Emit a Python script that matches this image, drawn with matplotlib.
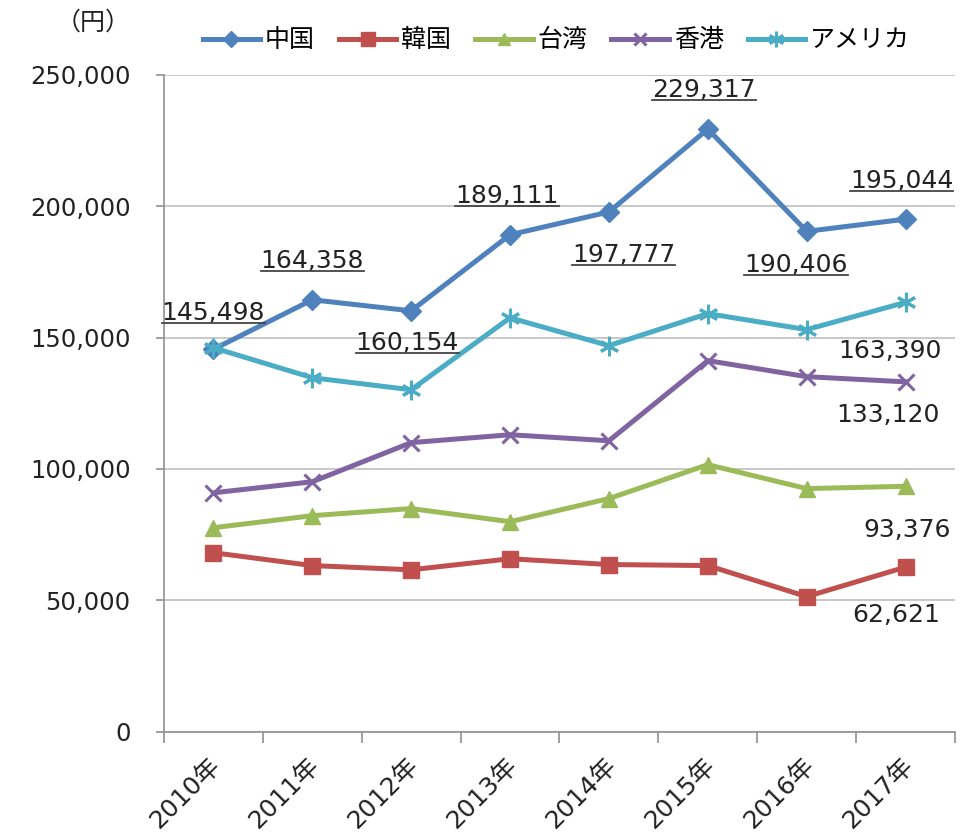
import matplotlib
matplotlib.use("Agg")
import matplotlib.pyplot as plt
import matplotlib.transforms as mtransforms
from matplotlib.lines import Line2D

# 数字はVerdana風のDejaVu、日本語はNoto
plt.rcParams['font.family'] = ['DejaVu Sans', 'Noto Sans CJK JP']

# データ
years = ['2010年', '2011年', '2012年', '2013年', '2014年', '2015年', '2016年', '2017年']
series_names = ['中国', '韓国', '台湾', '香港', 'アメリカ']
china = [145498, 164358, 160154, 189111, 197777, 229317, 190406, 195044]
korea = [68100, 63200, 61600, 65800, 63600, 63200, 51400, 62621]
taiwan = [77600, 82200, 84900, 79900, 88700, 101600, 92500, 93376]
hongkong = [90900, 95100, 110000, 113000, 110700, 141200, 135100, 133120]
usa = [146100, 134700, 130100, 157500, 146900, 159100, 153000, 163390]

colors = ['#4F81BD', '#C0504D', '#9BBB59', '#8064A2', '#4BACC6']
markers = ['D', 's', '^', 'x', (6, 2, 0)]
msizes = [10, 12, 11, 11, 14]

fig = plt.figure(figsize=(9.76, 8.4), dpi=100)
ax = fig.add_axes([0.168, 0.129, 0.8105, 0.782])

x = list(range(len(years)))
all_series = [china, korea, taiwan, hongkong, usa]
for vals, name, c, m, ms in zip(all_series, series_names, colors, markers, msizes):
    ax.plot(x, vals, color=c, lw=3.6, marker=m, markersize=ms,
            mew=2.2 if m == 'x' or isinstance(m, tuple) else 1, label=name, zorder=3)

ax.set_xlim(-0.5, 7.5)
ax.set_ylim(0, 250000)
ax.set_yticks(range(0, 250001, 50000))
ax.set_yticklabels([f'{v:,}' for v in range(0, 250001, 50000)], fontsize=17.5, color='#222222')
ax.yaxis.grid(True, color='#BFBFBF', lw=1.2)
ax.set_axisbelow(True)

ax.set_xticks([i - 0.5 for i in range(9)])
ax.set_xticklabels([])
ax.tick_params(axis='x', length=8, color='#909090', width=1.2)
ax.tick_params(axis='y', length=6, color='#909090', width=1.2, pad=18)
for s in ['top', 'right']:
    ax.spines[s].set_visible(False)
for s in ['left', 'bottom']:
    ax.spines[s].set_color('#909090')
    ax.spines[s].set_linewidth(1.2)

offset = mtransforms.ScaledTranslation(-0.05, -0.22, fig.dpi_scale_trans)
for i, lab in enumerate(years):
    ax.text(i, 0, lab, rotation=45, ha='right', va='top', rotation_mode='anchor',
            fontsize=18, color='#222222', transform=ax.get_xaxis_transform() + offset)

# データラベル (中国は下線付き)
china_pos = [(0.0, 156800), (0.0, 176600), (-0.04, 145400), (-0.03, 201300),
             (0.15, 178800), (-0.04, 241600), (-0.11, 175000), (-0.04, 207000)]
underlined = []
for i, (dx, y) in enumerate(china_pos):
    t = ax.text(i + dx, y, f'{china[i]:,}', ha='center', va='baseline', fontsize=18, color='#222222')
    underlined.append(t)

ax.text(7 - 0.16, 142300, f'{usa[7]:,}', ha='center', va='baseline', fontsize=18, color='#222222')
ax.text(7 - 0.18, 118000, f'{hongkong[7]:,}', ha='center', va='baseline', fontsize=18, color='#222222')
ax.text(7 + 0.02, 74200, f'{taiwan[7]:,}', ha='center', va='baseline', fontsize=18, color='#222222')
ax.text(7 - 0.09, 41900, f'{korea[7]:,}', ha='center', va='baseline', fontsize=18, color='#222222')

fig.text(0.095, 0.973, '（円）', fontsize=18, color='#222222', ha='center', va='center',
         family=['Noto Sans CJK JP'])

leg = fig.legend(loc='center', bbox_to_anchor=(0.57, 0.952), ncol=5, frameon=False,
                 prop={'family': ['Noto Sans CJK JP'], 'size': 18},
                 handlelength=2.3, columnspacing=0.95, handletextpad=0.2, markerscale=0.8)

# 下線
fig.canvas.draw()
r = fig.canvas.get_renderer()
for t in underlined:
    bb = t.get_window_extent(r)
    y0 = bb.y0 + 2
    fig.add_artist(Line2D([bb.x0 / fig.bbox.width, bb.x1 / fig.bbox.width],
                          [y0 / fig.bbox.height, y0 / fig.bbox.height],
                          transform=fig.transFigure, color='#444444', lw=1.3))

fig.savefig('out.png', dpi=100)
